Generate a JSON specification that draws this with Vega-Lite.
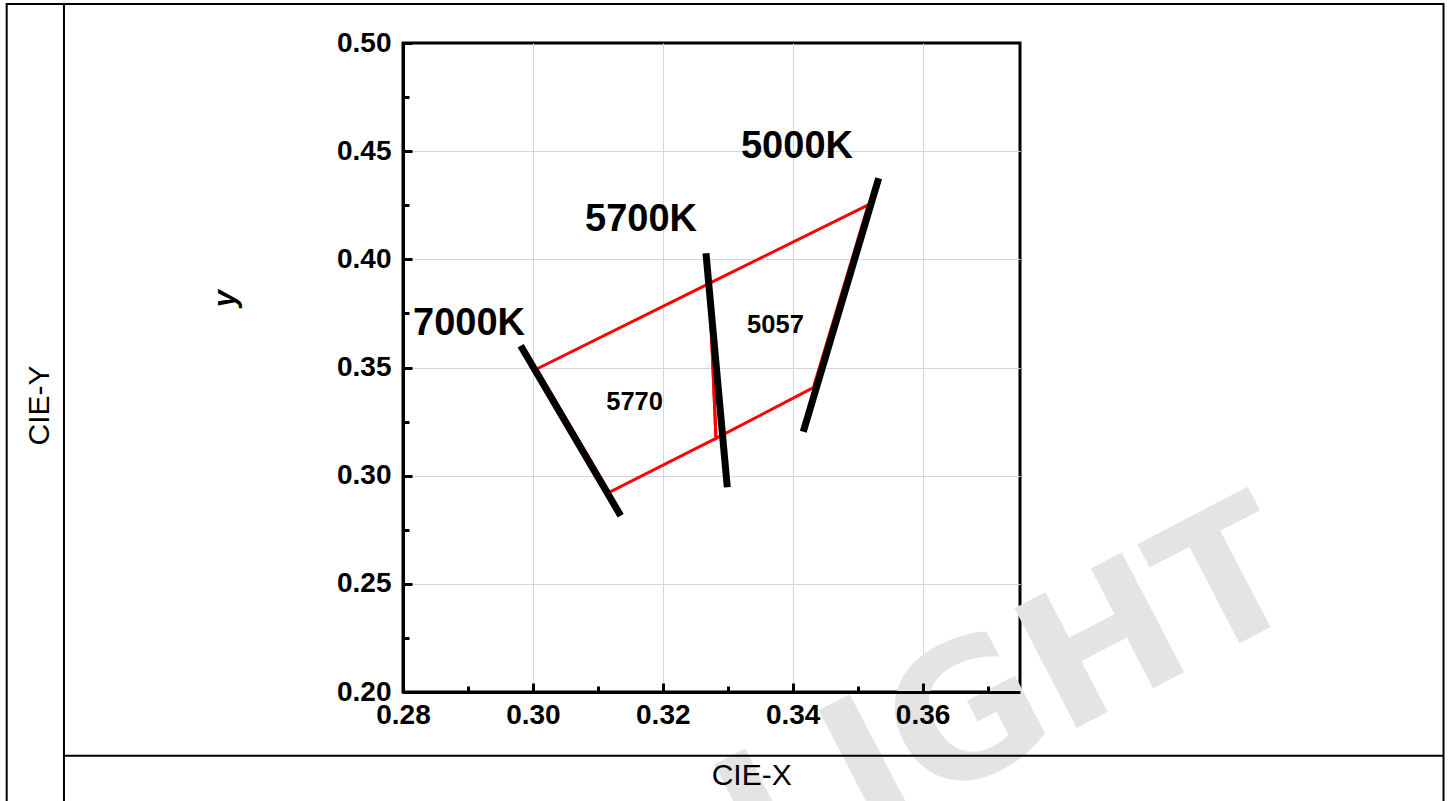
{
  "$schema": "https://vega.github.io/schema/vega-lite/v6.json",
  "width": 617,
  "height": 649,
  "autosize": {"type": "none"},
  "padding": {"left": 403, "top": 43, "right": 431, "bottom": 109},
  "background": "white",
  "config": {
    "font": "Liberation Sans",
    "view": {"stroke": "#000000", "strokeWidth": 3}
  },
  "datasets": {
    "isotherms": [
      {"cct": "7000K", "x": 0.29812, "y": 0.36008},
      {"cct": "7000K", "x": 0.31352, "y": 0.28150},
      {"cct": "5700K", "x": 0.32665, "y": 0.40279},
      {"cct": "5700K", "x": 0.32993, "y": 0.29462},
      {"cct": "5000K", "x": 0.35324, "y": 0.43746},
      {"cct": "5000K", "x": 0.34163, "y": 0.32033}
    ],
    "quads": [
      {"quad": "5770", "seq": 1, "x": 0.30059, "y": 0.34931},
      {"quad": "5770", "seq": 2, "x": 0.32716, "y": 0.38892},
      {"quad": "5770", "seq": 3, "x": 0.32819, "y": 0.31727},
      {"quad": "5770", "seq": 4, "x": 0.31176, "y": 0.29231},
      {"quad": "5770", "seq": 5, "x": 0.30059, "y": 0.34931},
      {"quad": "5057", "seq": 1, "x": 0.32716, "y": 0.38892},
      {"quad": "5057", "seq": 2, "x": 0.35164, "y": 0.42512},
      {"quad": "5057", "seq": 3, "x": 0.34318, "y": 0.34067},
      {"quad": "5057", "seq": 4, "x": 0.32819, "y": 0.31727},
      {"quad": "5057", "seq": 5, "x": 0.32716, "y": 0.38892}
    ],
    "cctLabels": [
      {"label": "7000K", "x": 0.29016, "y": 0.36493},
      {"label": "5700K", "x": 0.31665, "y": 0.41296},
      {"label": "5000K", "x": 0.34066, "y": 0.44675}
    ],
    "regionLabels": [
      {"label": "5770", "x": 0.31566, "y": 0.33036},
      {"label": "5057", "x": 0.33735, "y": 0.36577}
    ]
  },
  "layer": [
    {
      "data": {"values": [{}]},
      "mark": {"type": "text", "text": "LIGHT", "font": "DejaVu Sans", "fontWeight": "bold", "fontSize": 185, "angle": 332.5, "align": "right", "baseline": "alphabetic", "color": "#e4e4e4"},
      "encoding": {
        "x": {"datum": 0.41981, "type": "quantitative", "scale": {"domain": [0.28, 0.375], "nice": false, "zero": false}, "axis": null},
        "y": {"datum": 0.23975, "type": "quantitative", "scale": {"domain": [0.2, 0.5], "nice": false, "zero": false}, "axis": null}
      }
    },
    {
      "data": {"values": [{}]},
      "mark": {"type": "rect", "filled": false, "stroke": "#000000", "strokeWidth": 2},
      "encoding": {
        "x": {"datum": 0.21898, "type": "quantitative", "scale": {"domain": [0.28, 0.375], "nice": false, "zero": false}, "axis": null},
        "x2": {"datum": 0.44021},
        "y": {"datum": 0.51803, "type": "quantitative", "scale": {"domain": [0.2, 0.5], "nice": false, "zero": false}, "axis": null},
        "y2": {"datum": 0.14}
      }
    },
    {
      "data": {"values": [{}]},
      "mark": {"type": "rule", "color": "#000000", "strokeWidth": 2},
      "encoding": {
        "x": {"datum": 0.2278, "type": "quantitative", "scale": {"domain": [0.28, 0.375], "nice": false, "zero": false}, "axis": null},
        "y": {"datum": 0.51803, "type": "quantitative", "scale": {"domain": [0.2, 0.5], "nice": false, "zero": false}, "axis": null},
        "y2": {"datum": 0.14}
      }
    },
    {
      "data": {"values": [{}]},
      "mark": {"type": "rule", "color": "#000000", "strokeWidth": 2},
      "encoding": {
        "x": {"datum": 0.2278, "type": "quantitative", "scale": {"domain": [0.28, 0.375], "nice": false, "zero": false}, "axis": null},
        "x2": {"datum": 0.44021},
        "y": {"datum": 0.17051, "type": "quantitative", "scale": {"domain": [0.2, 0.5], "nice": false, "zero": false}, "axis": null}
      }
    },
    {
      "data": {"values": [{}]},
      "mark": {"type": "text", "text": "CIE-X", "font": "Liberation Sans", "fontSize": 30, "align": "center", "baseline": "alphabetic", "color": "#000000"},
      "encoding": {
        "x": {"datum": 0.33369, "type": "quantitative", "scale": {"domain": [0.28, 0.375], "nice": false, "zero": false}, "axis": null},
        "y": {"datum": 0.15701, "type": "quantitative", "scale": {"domain": [0.2, 0.5], "nice": false, "zero": false}, "axis": null}
      }
    },
    {
      "data": {"values": [{}]},
      "mark": {"type": "text", "text": "CIE-Y", "font": "Liberation Sans", "fontSize": 30, "angle": 270, "align": "center", "baseline": "alphabetic", "color": "#000000"},
      "encoding": {
        "x": {"datum": 0.22549, "type": "quantitative", "scale": {"domain": [0.28, 0.375], "nice": false, "zero": false}, "axis": null},
        "y": {"datum": 0.33244, "type": "quantitative", "scale": {"domain": [0.2, 0.5], "nice": false, "zero": false}, "axis": null}
      }
    },
    {
      "data": {"name": "regionLabels"},
      "mark": {"type": "text", "font": "Liberation Sans", "fontWeight": "bold", "fontSize": 25.5, "align": "center", "baseline": "alphabetic", "color": "#000000"},
      "encoding": {
        "x": {
          "field": "x", "type": "quantitative",
          "scale": {"domain": [0.28, 0.375], "nice": false, "zero": false},
          "axis": {"orient": "bottom", "values": [0.30, 0.32, 0.34, 0.36], "grid": true, "gridColor": "#d6d6d6", "gridWidth": 1, "labels": false, "domain": false, "ticks": false, "title": null, "zindex": 0}
        },
        "y": {
          "field": "y", "type": "quantitative",
          "scale": {"domain": [0.2, 0.5], "nice": false, "zero": false},
          "axis": {"orient": "left", "values": [0.25, 0.3, 0.35, 0.4, 0.45], "grid": true, "gridColor": "#d6d6d6", "gridWidth": 1, "labels": false, "domain": false, "ticks": false, "title": null, "zindex": 0}
        },
        "text": {"field": "label"}
      }
    },
    {
      "data": {"name": "quads"},
      "mark": {"type": "line", "color": "#ff0000", "strokeWidth": 3},
      "encoding": {
        "x": {
          "field": "x", "type": "quantitative",
          "scale": {"domain": [0.28, 0.375], "nice": false, "zero": false},
          "axis": {"orient": "bottom", "values": [0.29, 0.31, 0.33, 0.35, 0.37], "grid": false, "labels": false, "domain": false, "ticks": true, "tickSize": -6, "tickWidth": 3, "tickColor": "#000000", "title": null, "zindex": 1}
        },
        "y": {
          "field": "y", "type": "quantitative",
          "scale": {"domain": [0.2, 0.5], "nice": false, "zero": false},
          "axis": {"orient": "left", "values": [0.225, 0.275, 0.325, 0.375, 0.425, 0.475], "grid": false, "labels": false, "domain": false, "ticks": true, "tickSize": -6, "tickWidth": 3, "tickColor": "#000000", "title": null, "zindex": 1}
        },
        "detail": {"field": "quad"},
        "order": {"field": "seq", "type": "quantitative"}
      }
    },
    {
      "data": {"name": "isotherms"},
      "mark": {"type": "line", "color": "#000000", "strokeWidth": 7, "strokeCap": "butt"},
      "encoding": {
        "x": {
          "field": "x", "type": "quantitative",
          "scale": {"domain": [0.28, 0.375], "nice": false, "zero": false},
          "axis": {"orient": "bottom", "values": [0.28, 0.30, 0.32, 0.34, 0.36], "format": ".2f", "grid": false, "ticks": true, "tickSize": -9, "tickWidth": 3, "tickColor": "#000000", "domain": true, "domainColor": "#000000", "domainWidth": 3, "labels": true, "labelFont": "Liberation Sans", "labelFontSize": 28, "labelFontWeight": "bold", "labelColor": "#000000", "labelPadding": 18, "labelFlush": false, "labelOverlap": false, "labelBound": false, "title": null, "zindex": 1}
        },
        "y": {
          "field": "y", "type": "quantitative",
          "scale": {"domain": [0.2, 0.5], "nice": false, "zero": false},
          "axis": {"orient": "left", "values": [0.2, 0.25, 0.3, 0.35, 0.4, 0.45, 0.5], "format": ".2f", "grid": false, "ticks": true, "tickSize": -9, "tickWidth": 3, "tickColor": "#000000", "domain": true, "domainColor": "#000000", "domainWidth": 3, "labels": true, "labelFont": "Liberation Sans", "labelFontSize": 28, "labelFontWeight": "bold", "labelColor": "#000000", "labelPadding": 21, "labelFlush": false, "labelOverlap": false, "labelBound": false, "title": "y", "titleFont": "Liberation Sans", "titleFontSize": 31, "titleFontWeight": "bold", "titleFontStyle": "italic", "titleColor": "#000000", "titleAngle": 270, "titleAlign": "center", "titleBaseline": "alphabetic", "titleX": -169, "titleY": 255, "zindex": 1}
        },
        "detail": {"field": "cct"}
      }
    },
    {
      "data": {"name": "cctLabels"},
      "mark": {"type": "text", "font": "Liberation Sans", "fontWeight": "bold", "fontSize": 38, "align": "center", "baseline": "alphabetic", "color": "#000000"},
      "encoding": {
        "x": {"field": "x", "type": "quantitative", "scale": {"domain": [0.28, 0.375], "nice": false, "zero": false}, "axis": null},
        "y": {"field": "y", "type": "quantitative", "scale": {"domain": [0.2, 0.5], "nice": false, "zero": false}, "axis": null},
        "text": {"field": "label"}
      }
    }
  ],
  "resolve": {"axis": {"x": "independent", "y": "independent"}}
}
